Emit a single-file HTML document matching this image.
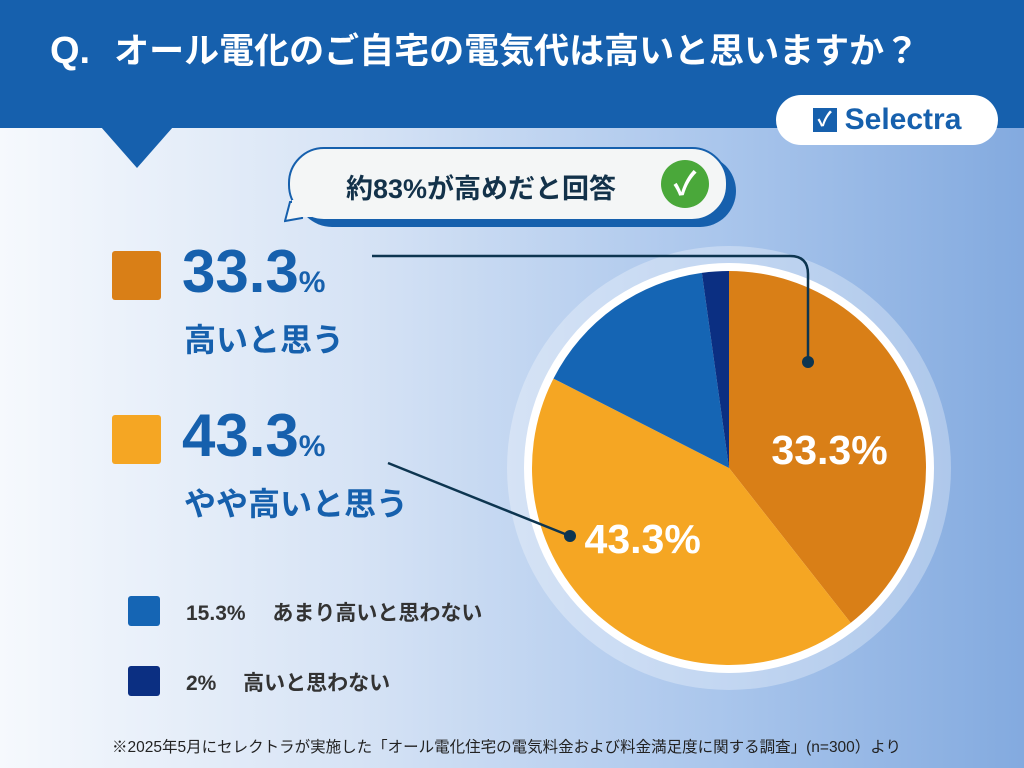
<!DOCTYPE html>
<html><head><meta charset="utf-8"><style>
body{margin:0;width:1024px;height:768px;overflow:hidden;font-family:"Liberation Sans","Noto Sans CJK JP",sans-serif;}
#bg{position:absolute;left:0;top:0;width:1024px;height:768px;background:linear-gradient(90deg,#f6f9fd 0%,#d6e3f5 35%,#aac6ec 70%,#83aadf 100%);}
.abs{position:absolute;}
</style></head><body>
<div id="bg"></div>
<div class="abs" style="left:0;top:0;width:1024px;height:128px;background:#1660ad"></div>
<svg class="abs" style="left:0;top:0" width="1024" height="768">
<polygon points="101,127 173,127 137,168" fill="#1660ad"/>
</svg>
<div class="abs" style="left:50px;top:23px;color:#fff;font-weight:bold;font-size:35px;white-space:nowrap"><span style="font-size:38px;margin-right:24px">Q.</span>オール電化のご自宅の電気代は高いと思いますか？</div>
<div class="abs" style="left:776px;top:95px;width:222px;height:50px;background:#fff;border-radius:25px;display:flex;align-items:center;justify-content:center;color:#1660ad;font-weight:bold;font-size:30px"><span style="display:inline-block;width:24px;height:24px;background:#1660ad;color:#fff;font-size:20px;line-height:24px;text-align:center;margin-right:8px">✓</span>Selectra</div>
<div class="abs" style="left:296px;top:155px;width:440px;height:72px;background:#1660ad;border-radius:36px"></div>
<div class="abs" style="left:288px;top:147px;width:436px;height:70px;background:#f4f6f6;border:2px solid #1660ad;border-radius:36px"></div>
<svg class="abs" style="left:284px;top:200px" width="40" height="25"><polygon points="6,2 20,2 18,18 1,21" fill="#f4f6f6" stroke="#1660ad" stroke-width="2"/><rect x="8" y="0" width="20" height="17" fill="#f4f6f6"/></svg>
<div class="abs" style="left:346px;top:167px;font-size:27px;font-weight:bold;color:#13324a">約83%が高めだと回答</div>
<div class="abs" style="left:661px;top:160px;width:48px;height:48px;border-radius:50%;background:#4aa83a;color:#fff;font-size:32px;line-height:48px;text-align:center;font-weight:bold">✓</div>

<div class="abs" style="left:112px;top:251px;width:49px;height:49px;background:#d97f17;border-radius:3px"></div>
<div class="abs" style="left:182px;top:240px;color:#1660ad;font-weight:bold;font-size:60px;line-height:64px">33.3<span style="font-size:30px">%</span></div>
<div class="abs" style="left:184px;top:315px;color:#1660ad;font-weight:bold;font-size:32px">高いと思う</div>
<div class="abs" style="left:112px;top:415px;width:49px;height:49px;background:#f5a623;border-radius:3px"></div>
<div class="abs" style="left:182px;top:404px;color:#1660ad;font-weight:bold;font-size:60px;line-height:64px">43.3<span style="font-size:30px">%</span></div>
<div class="abs" style="left:184px;top:479px;color:#1660ad;font-weight:bold;font-size:32px">やや高いと思う</div>
<div class="abs" style="left:128px;top:596px;width:32px;height:30px;background:#1565b4;border-radius:3px"></div>
<div class="abs" style="left:186px;top:597px;color:#333;font-weight:bold;font-size:21px;white-space:nowrap">15.3%　 あまり高いと思わない</div>
<div class="abs" style="left:128px;top:666px;width:32px;height:30px;background:#0b2f82;border-radius:3px"></div>
<div class="abs" style="left:186px;top:667px;color:#333;font-weight:bold;font-size:21px;white-space:nowrap">2%　 高いと思わない</div>
<div class="abs" style="left:112px;top:735px;color:#222;font-size:15.5px;white-space:nowrap">※2025年5月にセレクトラが実施した「オール電化住宅の電気料金および料金満足度に関する調査」(n=300）より</div>

<svg id="pie" class="abs" style="left:0;top:0" width="1024" height="768"></svg>
<script>
const categories=["高いと思う","やや高いと思う","あまり高いと思わない","高いと思わない"];
const labels=["33.3%","43.3%","15.3%","2%"];
const shares=[39.4,43.1,15.3,2.2];
const colors=["#d97f17","#f5a623","#1565b4","#0b2f82"];
const NS="http://www.w3.org/2000/svg";
const svg=document.getElementById('pie');
const cx=729,cy=468,r=197;
function mk(t,a){const e=document.createElementNS(NS,t);for(const k in a)e.setAttribute(k,a[k]);svg.appendChild(e);return e;}
const halo=mk('circle',{cx:cx,cy:cy,r:222,fill:'rgba(255,255,255,0.3)'});


const ring=mk('circle',{cx:cx,cy:cy,r:r+8,fill:'#fff'});


const total=shares.reduce((a,b)=>a+b,0);
function pt(a,rr){return [cx+rr*Math.sin(a),cy-rr*Math.cos(a)];}
let start=0;const mids=[];
shares.forEach((v,i)=>{
 const sw=v/total*2*Math.PI;const end=start+sw;
 const p0=pt(start,r),p1=pt(end,r);
 const s=mk('path',{d:`M${cx},${cy}L${p0[0]},${p0[1]}A${r},${r} 0 ${sw>Math.PI?1:0} 1 ${p1[0]},${p1[1]}Z`,fill:colors[i]});
 
 
 mids.push(start+sw/2);start=end;
});
[[0,0.54,31],[1,0.69,-20]].forEach(([i,f,dy])=>{
 const p=pt(mids[i],r*f);
 const t=mk('text',{x:p[0],y:p[1]+dy,'text-anchor':'middle',fill:'#fff','font-size':41,'font-weight':'bold','font-family':'Liberation Sans, sans-serif'});
 t.textContent=labels[i];
 
 
});
const l1=mk('path',{d:'M372,256 H790 Q808,256 808,274 V362',fill:'none',stroke:'#0d3550','stroke-width':2.5});


const d1=mk('circle',{cx:808,cy:362,r:6,fill:'#0d3550'});


const l2=mk('path',{d:'M388,463 L570,536',fill:'none',stroke:'#0d3550','stroke-width':2.5});


const d2=mk('circle',{cx:570,cy:536,r:6,fill:'#0d3550'});


</script>
</body></html>
